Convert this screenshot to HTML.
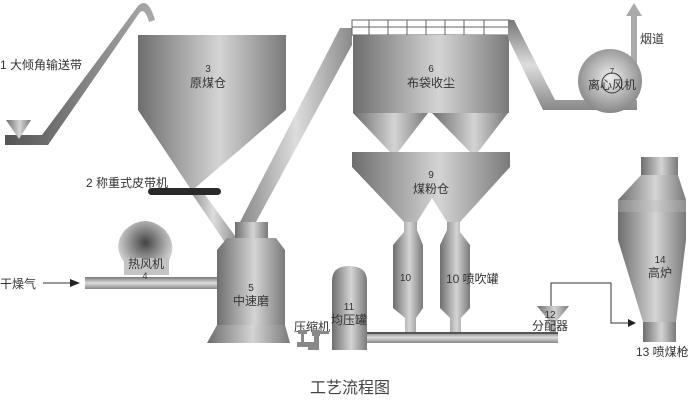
<!DOCTYPE html>
<html><head><meta charset="utf-8"><style>
html,body{margin:0;padding:0;background:#fff;}
svg{display:block;font-family:"Liberation Sans","Noto Sans CJK SC",sans-serif;}
text{fill:#333;}
</style></head><body>
<svg width="700" height="400" viewBox="0 0 700 400" font-size="12">
<defs>
<linearGradient id="h" x1="0" x2="1" y1="0" y2="0">
<stop offset="0" stop-color="#6e6e6e"/><stop offset="0.55" stop-color="#d4d4d4"/><stop offset="1" stop-color="#7a7a7a"/></linearGradient>
<linearGradient id="h2" x1="0" x2="1" y1="0" y2="0">
<stop offset="0" stop-color="#888"/><stop offset="0.5" stop-color="#ddd"/><stop offset="1" stop-color="#8a8a8a"/></linearGradient>
<linearGradient id="v" x1="0" x2="0" y1="0" y2="1">
<stop offset="0" stop-color="#777"/><stop offset="0.5" stop-color="#ddd"/><stop offset="1" stop-color="#888"/></linearGradient>
<linearGradient id="belt" x1="0" x2="1"><stop offset="0" stop-color="#555"/><stop offset="1" stop-color="#aaa"/></linearGradient>
<radialGradient id="ball" cx="0.5" cy="0.45" r="0.55"><stop offset="0" stop-color="#eee"/><stop offset="1" stop-color="#888"/></radialGradient>
<radialGradient id="dome" cx="0.5" cy="0.4" r="0.5"><stop offset="0" stop-color="#444"/><stop offset="1" stop-color="#ccc"/></radialGradient>
</defs>

<!-- conveyor 1 -->
<path d="M5 135 L42 135 L138 6 Q148 -4 155 20 L149 22 Q145 8 140 12 L48 145 L5 145 Z" fill="url(#belt)"/>
<polygon points="6,120 31,120 19,139" fill="url(#h)"/>
<text x="0" y="69">1  大倾角输送带</text>

<!-- pipe belt -> mill -->
<polygon points="188,188 200,188 238,240 226,244" fill="url(#h2)"/>
<!-- pipe mill -> bag filter -->
<polygon points="240,222 256,222 352,45 352,28 340,28" fill="url(#h2)"/>

<!-- coal bin 3 -->
<rect x="138" y="35" width="148" height="75" fill="url(#h)"/>
<polygon points="138,110 286,110 195,188 190,188" fill="url(#h)"/>
<text x="208" y="72" text-anchor="middle" font-size="10">3</text>
<text x="208" y="87" text-anchor="middle">原煤仓</text>
<rect x="148" y="188" width="73" height="7" rx="3.5" fill="#2a2a2a"/>
<text x="86" y="187">2  称重式皮带机</text>

<!-- bag filter 6 -->
<rect x="352" y="20" width="158" height="15" fill="#fff" stroke="#666" stroke-width="1"/>
<g stroke="#666" stroke-width="1">
<line x1="352" y1="27" x2="510" y2="27"/>
<line x1="369" y1="20" x2="369" y2="35"/><line x1="388" y1="20" x2="388" y2="35"/><line x1="407" y1="20" x2="407" y2="35"/><line x1="426" y1="20" x2="426" y2="35"/><line x1="445" y1="20" x2="445" y2="35"/><line x1="464" y1="20" x2="464" y2="35"/><line x1="484" y1="20" x2="484" y2="35"/></g>
<rect x="353" y="35" width="156" height="78" fill="url(#h)"/>
<polygon points="353,113 428,113 398,152 390,152" fill="url(#h)"/>
<polygon points="432,113 508,113 478,152 470,152" fill="url(#h)"/>
<text x="431" y="72" text-anchor="middle" font-size="10">6</text>
<text x="431" y="87" text-anchor="middle">布袋收尘</text>
<polygon points="508,20 514,20 555,100 637,100 637,110 543,110 508,38" fill="url(#v)"/>

<!-- fan 7 -->
<rect x="631" y="15" width="6" height="70" fill="#aaa"/>
<polygon points="626,16 642,16 634,3" fill="#aaa"/>
<text x="640" y="43">烟道</text>
<circle cx="610" cy="81" r="32" fill="url(#ball)"/>
<circle cx="612" cy="83" r="10" fill="none" stroke="#333"/>
<text x="612" y="89" text-anchor="middle">离心风机</text>
<text x="612" y="74" text-anchor="middle" font-size="8">7</text>

<!-- coal powder bin 9 -->
<rect x="352" y="152" width="158" height="15" fill="url(#h)"/>
<polygon points="352,167 510,167 460,222 447,222 432,198 417,222 404,222" fill="url(#h)"/>
<text x="431" y="178" text-anchor="middle" font-size="10">9</text>
<text x="431" y="193" text-anchor="middle">煤粉仓</text>

<!-- tanks 10 -->
<path d="M404 222 H417 V230 L423 245 V308 L416 318 V332 H405 V318 L393 308 V245 L404 232 Z" fill="url(#h)"/>
<path d="M447 222 H460 V232 L470 245 V308 L461 318 V332 H450 V318 L440 308 V245 L447 230 Z" fill="url(#h)"/>
<text x="400" y="281" font-size="10">10</text>
<text x="446" y="283">10  喷吹罐</text>

<!-- mill 5 -->
<rect x="235" y="222" width="33" height="16" fill="url(#h)"/>
<polygon points="227,238 276,238 285,250 285,325 217,325 217,250" fill="url(#h)"/>
<polygon points="217,325 285,325 290,343 207,343" fill="url(#h)"/>
<text x="251" y="291" text-anchor="middle" font-size="10">5</text>
<text x="251" y="305" text-anchor="middle">中速磨</text>

<!-- hot air 4 -->
<path d="M124 275 V262 Q112 245 125 230 Q145 212 165 230 Q178 245 168 262 V275 Z" fill="url(#dome)"/>
<rect x="124" y="258" width="45" height="17" fill="#c4c4c4"/>
<text x="146" y="268" text-anchor="middle">热风机</text>
<rect x="85" y="277" width="132" height="12" fill="url(#v)"/>
<text x="145" y="279" text-anchor="middle" font-size="9">4</text>
<text x="0" y="288">干燥气</text>
<line x1="43" y1="283" x2="72" y2="283" stroke="#333"/>
<polygon points="70,279 80,283 70,287" fill="#222"/>

<!-- compressor -->
<text x="294" y="331">压缩机</text>
<g fill="#888">
<rect x="298" y="330" width="9" height="4"/><rect x="301" y="334" width="3" height="8"/><rect x="297" y="342" width="11" height="5"/>
<rect x="308" y="342" width="6" height="8"/><rect x="312" y="330" width="8" height="6"/><rect x="314" y="336" width="5" height="14"/><rect x="319" y="331" width="10" height="3"/>
</g>

<!-- tank 11 -->
<path d="M332 350 V281 Q332 266 349 266 Q367 266 367 281 V350 Z" fill="url(#h)"/>
<text x="349" y="310" text-anchor="middle" font-size="10">11</text>
<text x="349" y="324" text-anchor="middle">均压罐</text>

<!-- main pipe -->
<rect x="367" y="332" width="191" height="11" fill="url(#v)"/>
<rect x="367" y="332" width="191" height="2" fill="#555"/>

<!-- distributor 12 -->
<polygon points="537,306 569,306 556,322 550,322" fill="url(#h)"/>
<rect x="550" y="320" width="6" height="12" fill="#aaa"/>
<text x="550" y="318" text-anchor="middle" font-size="10">12</text>
<text x="550" y="330" text-anchor="middle">分配器</text>
<polyline points="551,306 551,283 611,283 611,323 628,323" fill="none" stroke="#333"/>
<polygon points="628,319 636,323 628,327" fill="#222"/>

<!-- furnace 14 -->
<rect x="641" y="157" width="37" height="18" fill="url(#h)"/>
<polygon points="641,175 678,175 686,200 686,240 676,322 643,322 618,240 618,200" fill="url(#h)"/>
<rect x="618" y="200" width="68" height="12" fill="#bbb" opacity="0.35"/>
<rect x="643" y="322" width="33" height="20" fill="url(#h)"/>
<text x="660" y="263" text-anchor="middle" font-size="10">14</text>
<text x="660" y="277" text-anchor="middle">高炉</text>
<text x="636" y="356">13  喷煤枪</text>

<text x="350" y="393" text-anchor="middle" font-size="16" style="fill:#444">工艺流程图</text>
</svg>
</body></html>
